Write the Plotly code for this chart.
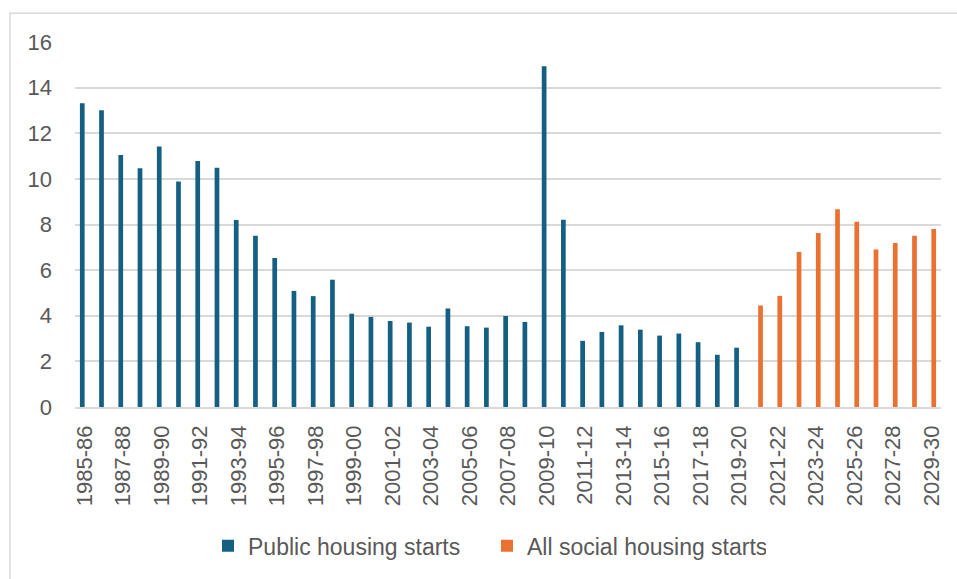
import plotly.graph_objects as go

years = [f"{y}-{str(y+1)[-2:]}" for y in range(1985, 2030)]

public_years = years[:35]
public_values = [13.32, 13.01, 11.05, 10.47, 11.42, 9.88, 10.78, 10.49, 8.20, 7.51,
                 6.53, 5.09, 4.86, 5.58, 4.09, 3.95, 3.77, 3.70, 3.52, 4.32,
                 3.54, 3.48, 3.99, 3.73, 14.94, 8.21, 2.90, 3.29, 3.58, 3.39,
                 3.13, 3.22, 2.84, 2.29, 2.60]

social_years = years[35:]
social_values = [4.45, 4.87, 6.79, 7.63, 8.67, 8.12, 6.90, 7.19, 7.51, 7.80]

tick_labels = years[::2]

FONT = "Liberation Sans"
TXT = "#595959"
BW = 0.245

fig = go.Figure()
fig.add_trace(go.Bar(x=public_years, y=public_values, name="Public housing starts",
                     width=BW, offset=-BW,
                     marker=dict(color="#156082", line=dict(width=0))))
fig.add_trace(go.Bar(x=social_years, y=social_values, name="All social housing starts",
                     width=BW, offset=0,
                     marker=dict(color="#E97132", line=dict(width=0))))

L, R, T, B = 75, 16, 42, 169
W, H = 957, 579
pw = W - L - R
ph = H - T - B

fig.update_layout(
    width=W, height=H,
    margin=dict(l=L, r=R, t=T, b=B),
    paper_bgcolor="white", plot_bgcolor="white",
    barmode="overlay",
    font=dict(family=FONT, size=22, color=TXT),
    showlegend=True,
    legend=dict(orientation="h", x=(208 - L) / pw, xanchor="left",
                y=(ph - (550 - T)) / ph, yanchor="middle",
                font=dict(family=FONT, size=23, color=TXT),
                itemwidth=30, traceorder="normal",
                entrywidth=234, entrywidthmode="pixels"),
    xaxis=dict(type="category", categoryorder="array", categoryarray=years,
               range=[-0.5, len(years) - 0.5],
               tickmode="array", tickvals=tick_labels, ticktext=tick_labels,
               tickangle=-90, showgrid=False, showline=True, linecolor="#D9D9D9",
               linewidth=1.5, ticks="", ticklabelstandoff=8,
               tickfont=dict(family=FONT, size=22, color=TXT)),
    yaxis=dict(range=[0, 16], dtick=2, tick0=0, showgrid=True, gridcolor="#D9D9D9",
               gridwidth=1.5, zeroline=False, showline=False, ticks="",
               ticklabelstandoff=22,
               tickfont=dict(family=FONT, size=22, color=TXT)),
    shapes=[dict(type="rect", xref="paper", yref="paper",
                 x0=(10 - L) / pw, x1=(962 - L) / pw,
                 y0=(ph - (585 - T)) / ph, y1=(ph - (13 - T)) / ph,
                 line=dict(color="#D9D9D9", width=1.5), fillcolor="rgba(0,0,0,0)",
                 layer="below")],
)

fig.write_html("out.html")
